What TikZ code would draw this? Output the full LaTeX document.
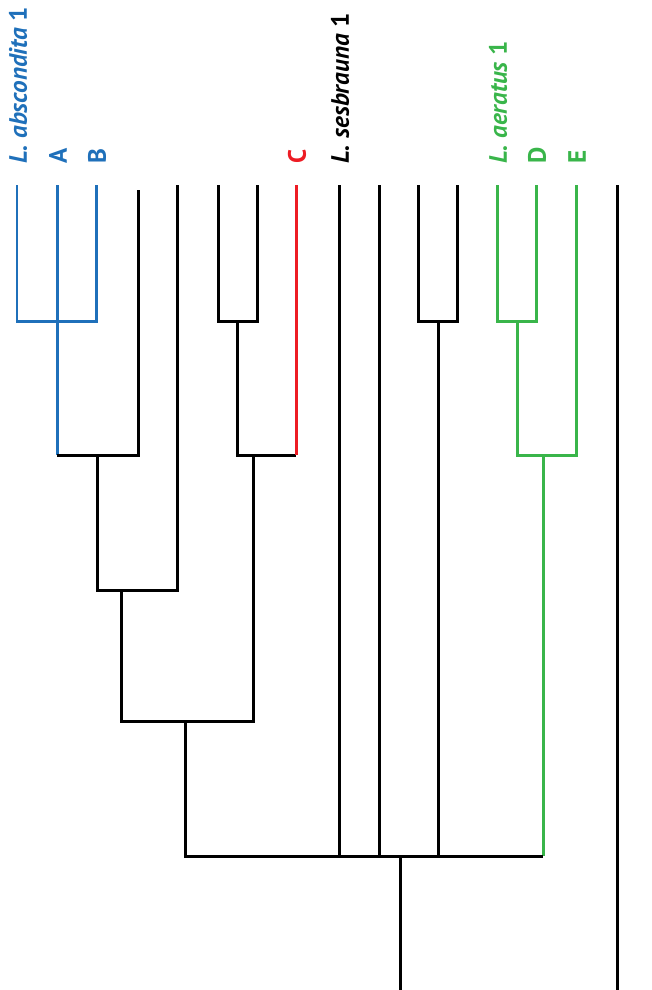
\documentclass[tikz,border=0pt]{standalone}
\usepackage{fontspec}
\setmainfont{PT Sans}
\usetikzlibrary{positioning,calc}
\definecolor{cladeblue}{RGB}{31,112,186}
\definecolor{cladegreen}{RGB}{57,181,74}
\definecolor{cladered}{RGB}{237,28,36}

\begin{document}
\begin{tikzpicture}[x=0.02cm,y=-0.02cm,
  branch/.style={line width=0.06cm},
  lab/.style={rotate=90,anchor=west,inner sep=0pt,font=\bfseries\fontsize{14.3}{16}\selectfont}]
\useasboundingbox (0,0) rectangle (652,990);
\foreach \i/\x in {1/17,2/57,3/96,5/177,6/218,7/257,8/296,9/339,10/379,11/418,12/457,13/497,14/536,15/576,16/617}
  \coordinate (t\i) at (\x,185);
\coordinate (t4) at (138,190);
\coordinate (cA) at (57,321); \coordinate (c1) at (97,455); \coordinate (c2) at (121,590);
\coordinate (cB) at (237,321); \coordinate (c3) at (253,455); \coordinate (c4) at (185,721);
\coordinate (cC) at (438,321); \coordinate (cD) at (517,321); \coordinate (cE) at (543,455);
\coordinate (c5) at (400,856); \coordinate (root) at (508,991);
\node[lab,text=cladeblue] (labAbs) at (18,164) {\textit{L. abscondita} 1};
\node[lab,text=cladeblue] (labA) at (58,164) {A};
\node[lab,text=cladeblue] (labB) at (97,164) {B};
\node[lab,text=cladered] (labC) at (297,164) {C};
\node[lab] (labSes) at (340,164) {\textit{L. sesbrauna} 1};
\node[lab,text=cladegreen] (labAer) at (498,164) {\textit{L. aeratus} 1};
\node[lab,text=cladegreen] (labD) at (537,164) {D};
\node[lab,text=cladegreen] (labE) at (577,164) {E};
\draw[branch,cladeblue] (t1) |- (cA) -| (t3); \draw[branch,cladeblue] (t2) -- (t2 |- c1);
\draw[branch] (t2 |- c1) -| (t4); \draw[branch] (c1) |- (c2) -| (t5);
\draw[branch] (t6) |- (cB) -| (t7); \draw[branch] (cB) |- (t8 |- c3); \draw[branch,cladered] (t8 |- c3) -- (t8);
\draw[branch] (c2) |- (c4) -| (c3);
\draw[branch] (t11) |- (cC) -| (t12);
\draw[branch,cladegreen] (t13) |- (cD) -| (t14); \draw[branch,cladegreen] (cD) |- (cE) -| (t15);
\draw[branch,cladegreen] (cE) -- (cE |- c5);
\draw[branch] (c4) |- (cE |- c5); \draw[branch] (t9) -- (t9 |- c5); \draw[branch] (t10) -- (t10 |- c5);
\draw[branch] (cC) -- (cC |- c5);
\draw[branch] (c5) |- (root) -| (t16);
\end{tikzpicture}
\end{document}
